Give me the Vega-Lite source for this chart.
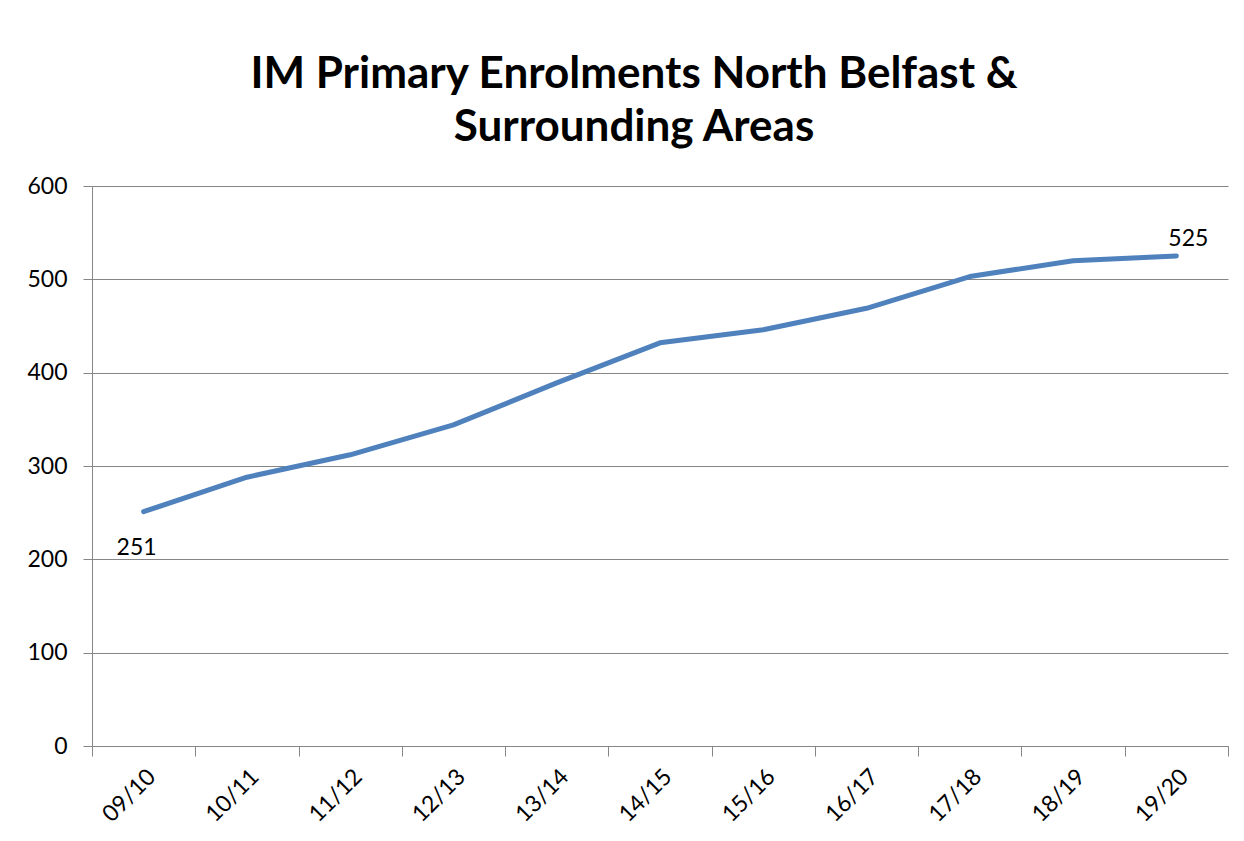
{
  "$schema": "https://vega.github.io/schema/vega-lite/v6.json",
  "width": 1136,
  "height": 560,
  "autosize": {"type": "none"},
  "padding": {"left": 92, "top": 186, "right": 16, "bottom": 95},
  "background": "white",
  "title": {
    "text": ["IM Primary Enrolments North Belfast &", "Surrounding Areas"],
    "font": "Lato",
    "fontSize": 44,
    "fontWeight": "bold",
    "color": "black",
    "lineHeight": 53,
    "offset": 25,
    "dx": -26,
    "anchor": "middle"
  },
  "data": {
    "values": [
      {"year": "09/10", "enrolments": 251},
      {"year": "10/11", "enrolments": 288},
      {"year": "11/12", "enrolments": 312},
      {"year": "12/13", "enrolments": 344},
      {"year": "13/14", "enrolments": 389},
      {"year": "14/15", "enrolments": 432},
      {"year": "15/16", "enrolments": 446},
      {"year": "16/17", "enrolments": 469},
      {"year": "17/18", "enrolments": 503},
      {"year": "18/19", "enrolments": 520},
      {"year": "19/20", "enrolments": 525}
    ]
  },
  "encoding": {
    "x": {
      "field": "year",
      "type": "ordinal",
      "sort": null,
      "scale": {"type": "band", "paddingInner": 0, "paddingOuter": 0},
      "axis": {
        "title": null,
        "tickBand": "extent",
        "labelAngle": -45,
        "labelFont": "Lato",
        "labelFontSize": 23,
        "labelColor": "black",
        "labelPadding": 9,
        "tickColor": "#868686",
        "tickSize": 10,
        "domainColor": "#868686",
        "grid": false
      }
    },
    "y": {
      "field": "enrolments",
      "type": "quantitative",
      "scale": {"domain": [0, 600], "nice": false},
      "axis": {
        "title": null,
        "values": [0, 100, 200, 300, 400, 500, 600],
        "labelFont": "Lato",
        "labelFontSize": 23,
        "labelColor": "black",
        "labelPadding": 16,
        "tickColor": "#868686",
        "tickSize": 9,
        "domainColor": "#868686",
        "gridColor": "#868686",
        "gridOpacity": 1
      }
    }
  },
  "layer": [
    {
      "mark": {"type": "line", "color": "#4F81BD", "strokeWidth": 5, "strokeCap": "round", "strokeJoin": "round"}
    },
    {
      "transform": [{"filter": "datum.year == '09/10'"}],
      "mark": {"type": "text", "font": "Lato", "fontSize": 23, "color": "black", "dx": -7, "dy": 36},
      "encoding": {"text": {"field": "enrolments", "type": "quantitative"}}
    },
    {
      "transform": [{"filter": "datum.year == '19/20'"}],
      "mark": {"type": "text", "font": "Lato", "fontSize": 23, "color": "black", "dx": 12, "dy": -17},
      "encoding": {"text": {"field": "enrolments", "type": "quantitative"}}
    }
  ],
  "config": {"view": {"stroke": null}}
}
